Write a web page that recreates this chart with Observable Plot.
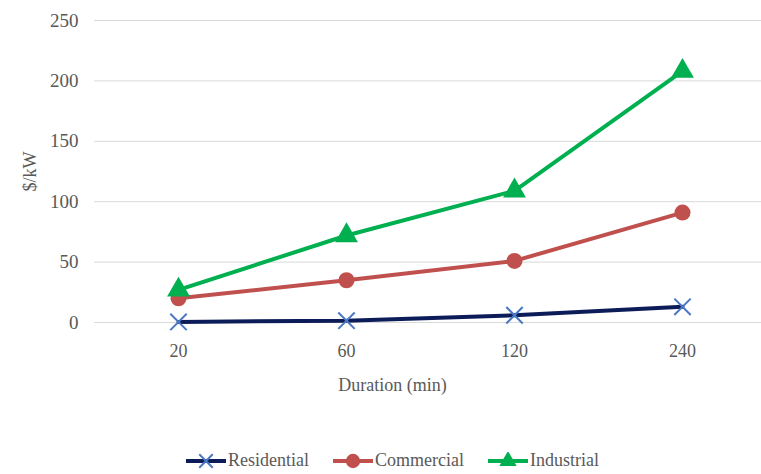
<!DOCTYPE html>
<html>
<head>
<meta charset="utf-8">
<script src="https://cdn.jsdelivr.net/npm/d3@7"></script>
<script src="https://cdn.jsdelivr.net/npm/@observablehq/plot@0.6"></script>
<style>
  body { margin: 0; background: #fff; font-family: "Liberation Serif", "DejaVu Serif", serif; }
  #chart { width: 761px; height: 474px; position: relative; overflow: hidden; }
  #legend { display: flex; justify-content: center; align-items: center; padding-left: 24px; margin-top: 40px;
            font-size: 18px; color: #595959; }
  .item { display: flex; align-items: center; margin: 0 12px; }
  .item svg { margin-right: 2px; }
</style>
</head>
<body>
<div id="chart"></div>
<script>
// Cost per kW by outage duration, three customer classes
const durations = ["20", "60", "120", "240"];
const residential = [0.5, 1.5, 6, 13];
const commercial = [20, 35, 51, 91];
const industrial = [27, 72, 109, 208];
const seriesNames = ["Residential", "Commercial", "Industrial"];
const yTicks = [0, 50, 100, 150, 200, 250];
const xLabel = "Duration (min)";
const yLabel = "$/kW";

const lineColors = ["#0c1c58", "#c0504d", "#00b050"];
const markerColors = ["#4a78c2", "#c0504d", "#00b050"];

const seriesValues = [residential, commercial, industrial];
const rows = seriesNames.flatMap((name, i) =>
  durations.map((d, j) => ({series: name, duration: d, value: seriesValues[i][j]}))
);
const bySeries = name => rows.filter(r => r.series === name);

const textColor = "#595959";
const fs = 18;

const plot = Plot.plot({
  width: 761,
  height: 410,
  marginTop: 20,
  marginBottom: 88,
  marginLeft: 94,
  marginRight: -5,
  style: {fontFamily: "Liberation Serif, serif", fontSize: fs + "px", color: textColor, background: "transparent"},
  x: {type: "point", domain: durations, padding: 0.5},
  y: {domain: [0, 250]},
  marks: [
    Plot.ruleY(yTicks, {stroke: "#d9d9d9", strokeWidth: 1}),
    Plot.axisY(yTicks, {tickSize: 0, tickPadding: 16, label: null, fontSize: 19, fill: textColor}),
    Plot.axisX({tickSize: 0, tickPadding: 22, label: null, fontSize: fs, fill: textColor}),
    Plot.text([yLabel], {frameAnchor: "left", rotate: -90, dx: -64, textAnchor: "middle", lineAnchor: "middle", fill: textColor, fontSize: fs}),
    Plot.text([xLabel], {frameAnchor: "bottom", dx: -38, dy: 63, textAnchor: "middle", lineAnchor: "middle", fill: textColor, fontSize: fs}),
    // Residential
    Plot.line(bySeries("Residential"), {x: "duration", y: "value", stroke: lineColors[0], strokeWidth: 4}),
    Plot.dot(bySeries("Residential"), {x: "duration", y: "value", symbol: "times", r: 7.5, stroke: markerColors[0], strokeWidth: 2}),
    // Commercial
    Plot.line(bySeries("Commercial"), {x: "duration", y: "value", stroke: lineColors[1], strokeWidth: 4}),
    Plot.dot(bySeries("Commercial"), {x: "duration", y: "value", symbol: "circle", r: 8, fill: markerColors[1], stroke: "none"}),
    // Industrial
    Plot.line(bySeries("Industrial"), {x: "duration", y: "value", stroke: lineColors[2], strokeWidth: 4}),
    Plot.dot(bySeries("Industrial"), {x: "duration", y: "value", symbol: "triangle", r: 8.5, fill: markerColors[2], stroke: "none"})
  ]
});

const chart = document.getElementById("chart");
chart.appendChild(plot);

// Legend below the plot: line-and-marker swatches
const symbols = {Residential: d3.symbolTimes, Commercial: d3.symbolCircle, Industrial: d3.symbolTriangle};
const symbolSizes = {Residential: 120, Commercial: 160, Industrial: 130};
const legend = d3.select(chart).append("div").attr("id", "legend");
seriesNames.forEach((name, i) => {
  const item = legend.append("div").attr("class", "item");
  const svg = item.append("svg").attr("width", 40).attr("height", 18);
  svg.append("line").attr("x1", 0).attr("x2", 40).attr("y1", 9).attr("y2", 9)
    .attr("stroke", lineColors[i]).attr("stroke-width", 4);
  const path = svg.append("path")
    .attr("transform", "translate(20,9)")
    .attr("d", d3.symbol(symbols[name], symbolSizes[name])());
  if (name === "Residential") path.attr("fill", "none").attr("stroke", markerColors[i]).attr("stroke-width", 2);
  else path.attr("fill", markerColors[i]);
  item.append("span").text(name);
});
</script>
</body>
</html>
